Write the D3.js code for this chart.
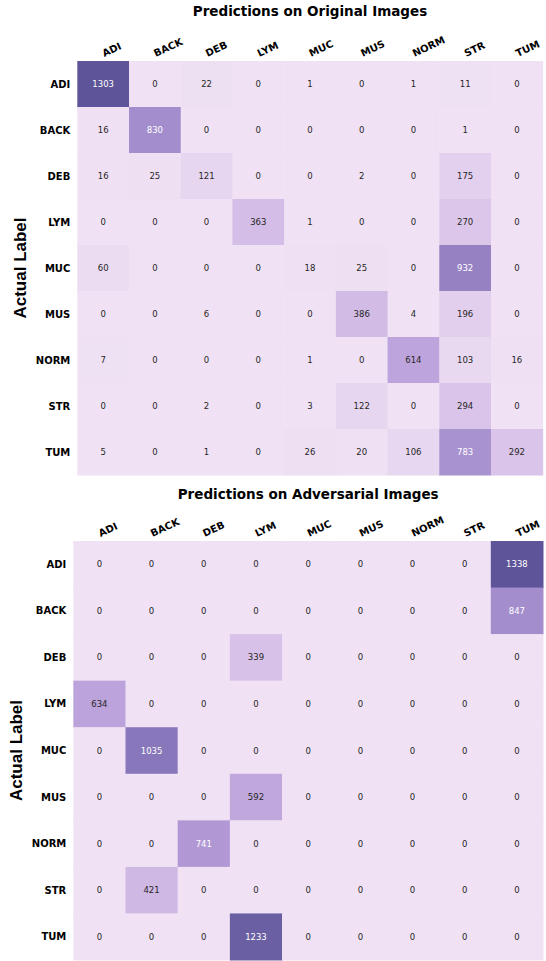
<!DOCTYPE html>
<html>
<head>
<meta charset="utf-8">
<script src="https://cdn.jsdelivr.net/npm/d3@7"></script>
<style>
  body { margin: 0; background: #fff; }
  svg { display: block; }
</style>
</head>
<body>
<script>
const width = 546;
const height = 961;

// class names, rows = actual label, columns = predicted label
const classes = ["ADI", "BACK", "DEB", "LYM", "MUC", "MUS", "NORM", "STR", "TUM"];

const originalCounts = [
  [1303, 0, 22, 0, 1, 0, 1, 11, 0],
  [16, 830, 0, 0, 0, 0, 0, 1, 0],
  [16, 25, 121, 0, 0, 2, 0, 175, 0],
  [0, 0, 0, 363, 1, 0, 0, 270, 0],
  [60, 0, 0, 0, 18, 25, 0, 932, 0],
  [0, 0, 6, 0, 0, 386, 4, 196, 0],
  [7, 0, 0, 0, 1, 0, 614, 103, 16],
  [0, 0, 2, 0, 3, 122, 0, 294, 0],
  [5, 0, 1, 0, 26, 20, 106, 783, 292]
];

const adversarialCounts = [
  [0, 0, 0, 0, 0, 0, 0, 0, 1338],
  [0, 0, 0, 0, 0, 0, 0, 0, 847],
  [0, 0, 0, 339, 0, 0, 0, 0, 0],
  [634, 0, 0, 0, 0, 0, 0, 0, 0],
  [0, 1035, 0, 0, 0, 0, 0, 0, 0],
  [0, 0, 0, 592, 0, 0, 0, 0, 0],
  [0, 0, 741, 0, 0, 0, 0, 0, 0],
  [0, 421, 0, 0, 0, 0, 0, 0, 0],
  [0, 0, 0, 1233, 0, 0, 0, 0, 0]
];

const svg = d3.select("body").append("svg")
    .attr("width", width)
    .attr("height", height);

// colour ramp (light lavender -> dark purple), stops are fractions of the max
const stops = [0, 0.25, 0.5, 0.7, 0.85, 1];
const stopColors = ["#f0e2f4", "#d8c1e8", "#b9a0da", "#9a84c6", "#7569ad", "#5e5499"];

function luminance(c) {
  const rgb = d3.rgb(c);
  const f = v => { v /= 255; return v <= 0.03928 ? v / 12.92 : Math.pow((v + 0.055) / 1.055, 2.4); };
  return 0.2126 * f(rgb.r) + 0.7152 * f(rgb.g) + 0.0722 * f(rgb.b);
}

function drawPanel(counts, title, box, titleY) {
  const g = svg.append("g");

  const x = d3.scaleBand().domain(classes).range([box.left, box.right]);
  const y = d3.scaleBand().domain(classes).range([box.top, box.bottom]);

  const vmax = d3.max(counts, row => d3.max(row));
  const color = d3.scaleLinear()
      .domain(stops.map(s => s * vmax))
      .range(stopColors)
      .interpolate(d3.interpolateRgb);

  const cells = [];
  counts.forEach((row, i) => row.forEach((v, j) => {
    cells.push({ actual: classes[i], pred: classes[j], value: v });
  }));

  g.selectAll("rect.cell")
    .data(cells)
    .enter().append("rect")
      .attr("class", "cell")
      .attr("x", d => x(d.pred))
      .attr("y", d => y(d.actual))
      .attr("width", x.bandwidth() + 0.5)
      .attr("height", y.bandwidth() + 0.5)
      .attr("fill", d => color(d.value));

  g.selectAll("text.val")
    .data(cells)
    .enter().append("text")
      .attr("class", "val")
      .attr("x", d => x(d.pred) + x.bandwidth() / 2)
      .attr("y", d => y(d.actual) + y.bandwidth() / 2)
      .attr("text-anchor", "middle")
      .attr("dominant-baseline", "central")
      .style("font-family", "DejaVu Sans")
      .style("font-size", "8.5px")
      .attr("fill", d => luminance(color(d.value)) < 0.408 ? "#ffffff" : "#262626")
      .text(d => d.value);

  // predicted label ticks on top, rotated
  g.selectAll("text.col")
    .data(classes)
    .enter().append("text")
      .attr("class", "col")
      .attr("transform", d => `translate(${x(d) + x.bandwidth() / 2 + 1},${box.top - 4}) rotate(-25)`)
      .style("font-family", "DejaVu Sans")
      .style("font-weight", "bold")
      .style("font-size", "10px")
      .attr("fill", "#000")
      .text(d => d);

  // actual label ticks on the left
  g.selectAll("text.row")
    .data(classes)
    .enter().append("text")
      .attr("class", "row")
      .attr("x", box.left - 7)
      .attr("y", d => y(d) + y.bandwidth() / 2)
      .attr("text-anchor", "end")
      .attr("dominant-baseline", "central")
      .style("font-family", "DejaVu Sans")
      .style("font-weight", "bold")
      .style("font-size", "10px")
      .attr("fill", "#000")
      .text(d => d);

  g.append("text")
    .attr("x", (box.left + box.right) / 2)
    .attr("y", titleY)
    .attr("text-anchor", "middle")
    .style("font-family", "DejaVu Sans")
    .style("font-weight", "bold")
    .style("font-size", "13.5px")
    .text(title);

  g.append("text")
    .attr("transform", `translate(${box.labelX},${(box.top + box.bottom) / 2}) rotate(-90)`)
    .attr("text-anchor", "middle")
    .style("font-family", "Liberation Sans")
    .style("font-weight", "bold")
    .style("font-size", "17px")
    .text("Actual Label");
}

drawPanel(originalCounts, "Predictions on Original Images",
  { left: 77.3, right: 542.7, top: 61, bottom: 475, labelX: 26 }, 16);

drawPanel(adversarialCounts, "Predictions on Adversarial Images",
  { left: 73.3, right: 543, top: 541, bottom: 960, labelX: 22 }, 499);
</script>
</body>
</html>
